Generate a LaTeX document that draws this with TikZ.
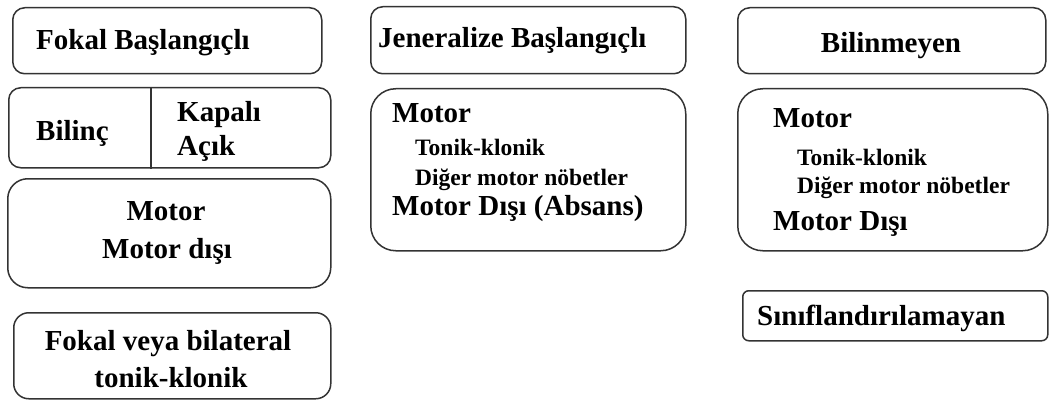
\documentclass[tikz,border=0pt]{standalone}
\usepackage{fontspec}
\setmainfont{Liberation Serif}[BoldFont={Liberation Serif Bold}]
\usetikzlibrary{positioning}
\tikzset{
  kutu/.style={draw=black!80, line width=1.5pt, rounded corners=#1, inner sep=0pt, anchor=north west},
  kutu/.default=12pt,
  buyuk/.style={font=\fontsize{29}{33}\selectfont\bfseries, inner sep=0pt, anchor=base west},
  kucuk/.style={font=\fontsize{23.5}{27}\selectfont\bfseries, inner sep=0pt, anchor=base west},
  ortala/.style={anchor=base},
}
\begin{document}
\begin{tikzpicture}[x=1pt, y=-1pt]
\useasboundingbox (0,0) rectangle (1049,401);
% sol sutun
\node[kutu, minimum width=309pt, minimum height=66pt] (fokal) at (12,7) {};
\node[kutu, minimum width=322pt, minimum height=80pt] (bilinc) at (8,87) {};
\draw[draw=black!80, line width=1.5pt] ([xshift=143pt]bilinc.north west) -- ([xshift=143pt]bilinc.south west);
\node[kutu=20pt, minimum width=323pt, minimum height=109pt] (motorsol) at (7,178) {};
\node[kutu=15pt, minimum width=317pt, minimum height=86pt] (bilateral) at (13,312) {};
\node[buyuk] (fokalyazi) at (36,50) {Fokal Başlangıçlı};
\node[buyuk] (bilincyazi) at (36,140) {Bilinç};
\node[buyuk] (kapali) at (177,122) {Kapalı};
\node[buyuk] (acik) at (177,155) {Açık};
\node[buyuk, ortala] (motor1) at (166,220) {Motor};
\node[buyuk, ortala] (motordisi1) at (167,258) {Motor dışı};
\node[buyuk, ortala] (bilateralyazi) at (168,350) {Fokal veya bilateral};
\node[buyuk, ortala] (tonik1) at (171,387) {tonik-klonik};
% orta sutun
\node[kutu, minimum width=315pt, minimum height=67pt] (jeneralize) at (370,6) {};
\node[kutu=25pt, minimum width=315pt, minimum height=162pt] (motororta) at (370,88) {};
\node[buyuk] (jenyazi) at (378,48) {Jeneralize Başlangıçlı};
\node[buyuk] (motor2) at (392,123) {Motor};
\node[kucuk] (tonik2) at (415,155) {Tonik-klonik};
\node[kucuk] (diger2) at (415,185) {Diğer motor nöbetler};
\node[buyuk] (motordisi2) at (392,215) {Motor Dışı (Absans)};
% sag sutun
\node[kutu, minimum width=308pt, minimum height=66pt] (bilinmeyen) at (737,7) {};
\node[kutu=25pt, minimum width=310pt, minimum height=162pt] (motorsag) at (737,88) {};
\node[kutu=6pt, minimum width=305pt, minimum height=50pt] (siniflanamayan) at (742,290) {};
\node[buyuk, ortala] (bilinmeyenyazi) at (891,53) {Bilinmeyen};
\node[buyuk] (motor3) at (773,128) {Motor};
\node[kucuk] (tonik3) at (797,165) {Tonik-klonik};
\node[kucuk] (diger3) at (797,193) {Diğer motor nöbetler};
\node[buyuk] (motordisi3) at (773,230) {Motor Dışı};
\node[buyuk] (sinifyazi) at (757,325) {Sınıflandırılamayan};
\end{tikzpicture}
\end{document}
